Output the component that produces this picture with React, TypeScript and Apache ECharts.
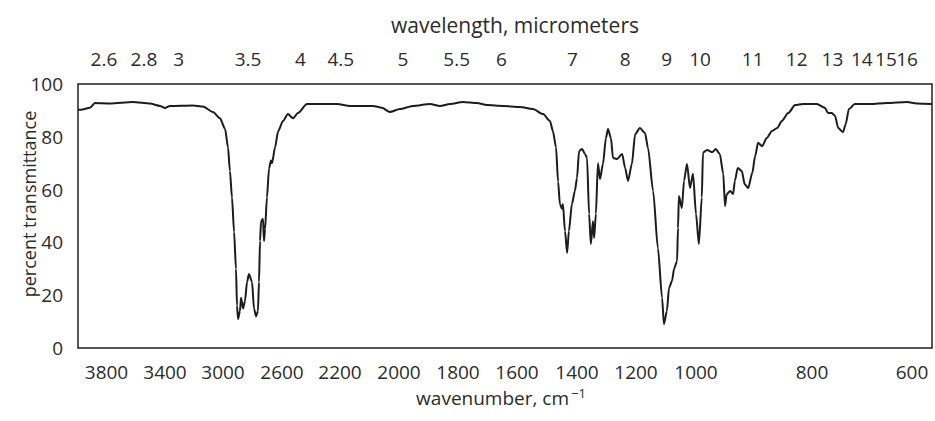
import React, { useEffect, useRef } from "react";
import * as echarts from "echarts";

// Spectrum: wavenumber (cm-1) and percent transmittance
const WAVENUMBER = [
  4000, 3979, 3916, 3881, 3776, 3619, 3503, 3434, 3400, 3366, 3207, 3138, 3069, 3021,
  2986, 2966, 2953, 2939, 2925, 2912, 2905, 2898, 2885, 2878, 2864, 2851, 2837, 2824,
  2803, 2790, 2776, 2763, 2756, 2749, 2742, 2729, 2722, 2715, 2702, 2688, 2675, 2668,
  2647, 2627, 2593, 2559, 2524, 2490, 2428, 2338, 2221, 2166, 2088, 2058, 2031, 1997,
  1953, 1895, 1861, 1827, 1783, 1736, 1702, 1647, 1590, 1547, 1513, 1490, 1480, 1470,
  1463, 1457, 1450, 1447, 1440, 1433, 1427, 1417, 1407, 1400, 1393, 1383, 1373, 1366,
  1359, 1353, 1346, 1342, 1336, 1329, 1322, 1312, 1302, 1295, 1285, 1278, 1264, 1247,
  1237, 1227, 1214, 1203, 1187, 1170, 1160, 1143, 1127, 1113, 1107, 1097, 1090, 1080,
  1073, 1063, 1060, 1057, 1047, 1040, 1030, 1020, 1010, 1000, 995, 990, 988, 981, 972,
  966, 959, 953, 950, 947, 941, 936, 933, 928, 921, 916, 910, 903, 898, 893, 886, 878,
  869, 860, 852, 841, 829, 816, 791, 776, 770, 763, 757, 751, 742, 737, 731, 720, 690,
  657, 614, 586, 542,
];
const TRANSMITTANCE = [
  90.2, 90.2, 91, 92.8, 92.6, 93.2, 92.6, 91.7, 90.9, 91.7, 91.9, 91.5, 89.4, 87,
  83, 76, 67, 57, 44, 30, 16, 11, 14, 19, 15, 17.8, 25, 28,
  25, 15, 12, 14, 25, 40.5, 48, 49, 40.5, 45, 57, 68, 71, 70,
  76, 82, 86, 88.6, 87, 89, 92.4, 92.4, 92.4, 91.7, 91.7, 91, 89.4, 90.5,
  91.7, 92.4, 91.7, 92.4, 93.2, 92.8, 92, 91.7, 91.3, 90.5, 88.6, 86, 82, 76,
  63, 54.5, 52.7, 54.5, 44.3, 36, 44.3, 54.5, 59.5, 64.4, 74.6, 75.4, 73.5, 72,
  50.8, 39.4, 48, 41.7, 50.8, 70, 64, 69.7, 79.5, 83, 79.5, 72, 71.6, 73.5,
  68.2, 63.3, 69.7, 81, 83.3, 81.4, 75.8, 59.5, 37.9, 19, 9, 14, 22.7, 25.4,
  30, 33, 45.5, 57.6, 53, 63.3, 69.7, 60.6, 66, 50.8, 39.4, 57, 74, 75, 74.2,
  75.4, 73.5, 66, 53.8, 58.3, 59.5, 58.3, 63.3, 68.2, 67, 62, 60.6, 66.3, 72.7, 77.7, 76.5, 79.5,
  82.2, 83.3, 86, 89, 92, 92.4, 92.4, 91, 89, 89, 88, 83.3, 81.8, 84.8, 90.5, 92.4, 92.4,
  92.8, 93.2, 92.6, 92.4,
];

const WAVENUMBER_TICKS = [3800, 3400, 3000, 2600, 2200, 2000, 1800, 1600, 1400, 1200, 1000, 800, 600];
const WAVELENGTH_TICKS = [2.6, 2.8, 3, 3.5, 4, 4.5, 5, 5.5, 6, 7, 8, 9, 10, 11, 12, 13, 14, 15, 16];
const TRANSMITTANCE_TICKS = [0, 20, 40, 60, 80, 100];

// The printed wavenumber axis is piecewise linear: breakpoints of that scale
const SCALE_WN = [4000, 3800, 3400, 3000, 2600, 2200, 2000, 1800, 1600, 1400, 1200, 1000, 800, 714, 625, 600, 542];
const SCALE_U = [0, 28.5, 87, 145, 204, 262, 321, 380, 439, 499, 558, 618, 734, 780, 825, 834, 854];

function toU(wn: number): number {
  for (let i = 0; i < SCALE_WN.length - 1; i++) {
    const a = SCALE_WN[i];
    const b = SCALE_WN[i + 1];
    if (wn <= a && wn >= b) {
      return SCALE_U[i] + ((a - wn) / (a - b)) * (SCALE_U[i + 1] - SCALE_U[i]);
    }
  }
  return wn > SCALE_WN[0] ? SCALE_U[0] : SCALE_U[SCALE_U.length - 1];
}

function nearestIndex(v: number, positions: number[]): number {
  let best = -1;
  let bestD = Infinity;
  positions.forEach((p, i) => {
    const d = Math.abs(p - v);
    if (d < bestD) {
      bestD = d;
      best = i;
    }
  });
  return bestD < 0.5 ? best : -1;
}

const FONT = "'Open Sans', 'Noto Sans', sans-serif";
const TEXT = "#2b2b2b";
const TICK_SIZE = 19;

export default function App() {
  const ref = useRef<HTMLDivElement>(null);

  useEffect(() => {
    document.body.style.margin = "0";
    if (!ref.current) return;
    const chart = echarts.init(ref.current, undefined, { renderer: "svg" });

    const axisMin = SCALE_U[0];
    const axisMax = SCALE_U[SCALE_U.length - 1];
    const bottomPos = WAVENUMBER_TICKS.map(toU);
    const topPos = WAVELENGTH_TICKS.map((l) => toU(10000 / l));

    const data = WAVENUMBER.map((w, i) => [toU(w), TRANSMITTANCE[i]]);

    const tickStyle = { fontFamily: FONT, fontSize: TICK_SIZE, color: TEXT };

    chart.setOption({
      animation: false,
      backgroundColor: "#ffffff",
      grid: {
        left: 78,
        right: 3,
        top: 84,
        bottom: 73,
        outerBoundsMode: "none",
        containLabel: false,
        show: true,
        borderColor: "#222",
        borderWidth: 1.5,
        backgroundColor: "transparent",
      },
      xAxis: [
        {
          type: "value",
          position: "bottom",
          min: axisMin,
          max: axisMax,
          axisLine: { show: false },
          axisTick: { show: false },
          splitLine: { show: false },
          axisLabel: {
            customValues: bottomPos,
            hideOverlap: false,
            showMinLabel: true,
            showMaxLabel: true,
            formatter: (v: number) => {
              const i = nearestIndex(v, bottomPos);
              return i >= 0 ? String(WAVENUMBER_TICKS[i]) : "";
            },
            ...tickStyle,
            margin: 14,
          },
          name: "{a|wavenumber, cm}{b|−1}",
          nameLocation: "middle",
          nameGap: 38,
          nameMoveOverlap: false,
          nameTextStyle: {
            padding: [0, 8, 0, 0],
            rich: {
              a: { fontFamily: FONT, fontSize: 19, color: TEXT, lineHeight: 24 },
              b: { fontFamily: FONT, fontSize: 13, color: TEXT, lineHeight: 24, verticalAlign: "top", padding: [0, 0, 12, 2] },
            },
          },
        },
        {
          type: "value",
          position: "top",
          min: axisMin,
          max: axisMax,
          axisLine: { show: false },
          axisTick: { show: false },
          splitLine: { show: false },
          axisLabel: {
            // a blank end slot keeps the closely spaced "15" and "16" from being dropped
            customValues: [...topPos, axisMax],
            hideOverlap: false,
            showMinLabel: true,
            showMaxLabel: true,
            formatter: (v: number) => {
              const i = nearestIndex(v, topPos);
              return i >= 0 ? String(WAVELENGTH_TICKS[i]) : " ";
            },
            ...tickStyle,
            padding: [0, 0, 0, 8],
            margin: 16,
          },
          name: "wavelength, micrometers",
          nameLocation: "middle",
          nameGap: 49,
          nameMoveOverlap: false,
          nameTextStyle: {
            fontFamily: FONT,
            fontSize: 21,
            color: TEXT,
            padding: [0, 0, 0, 20],
          },
        },
      ],
      yAxis: {
        type: "value",
        min: 0,
        max: 100,
        interval: 20,
        axisLine: { show: false },
        axisTick: { show: false },
        splitLine: { show: false },
        axisLabel: {
          customValues: TRANSMITTANCE_TICKS,
          showMinLabel: true,
          showMaxLabel: true,
          ...tickStyle,
          margin: 15,
        },
        name: "percent transmittance",
        nameLocation: "middle",
        nameGap: 40,
        nameMoveOverlap: false,
        nameTextStyle: { fontFamily: FONT, fontSize: 18, color: TEXT, padding: [0, 0, 0, 24] },
      },
      series: [
        {
          type: "line",
          xAxisIndex: 0,
          data,
          showSymbol: false,
          smooth: 0.25,
          smoothMonotone: "x",
          lineStyle: { color: "#1c1c1c", width: 2 },
        },
      ],
    });

    return () => chart.dispose();
  }, []);

  return <div ref={ref} style={{ position: "absolute", left: 0, top: 0, width: 935, height: 421 }} />;
}
